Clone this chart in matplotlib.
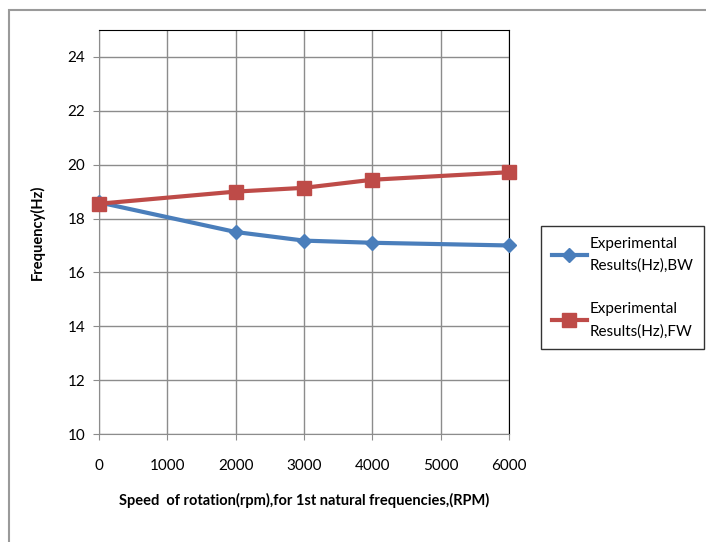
import matplotlib
matplotlib.use("Agg")
import matplotlib.pyplot as plt
from matplotlib.patches import Rectangle

plt.rcParams['font.family'] = ['Lato', 'DejaVu Sans']

speed = [0, 2000, 3000, 4000, 6000]
bw = [18.6, 17.5, 17.18, 17.1, 17.0]
fw = [18.55, 19.0, 19.14, 19.44, 19.72]

blue = '#4a7ebb'
red = '#be4b48'

fig = plt.figure(figsize=(7.06, 5.42), dpi=100)
# outer chart border: a frame whose right and bottom edges fall off the canvas
fig.add_artist(Rectangle((9 / 706, -0.05), 1.0, 1.05 - 10 / 542,
                         transform=fig.transFigure, fill=False,
                         edgecolor='#9a9a9a', linewidth=1.5, clip_on=False))

ax = fig.add_axes([99 / 706, 108 / 542, 410 / 706, 404 / 542])
ax.plot(speed, bw, color=blue, lw=3, marker='D', ms=7, clip_on=False, zorder=3,
        label='Experimental\nResults(Hz),BW')
ax.plot(speed, fw, color=red, lw=3, marker='s', ms=10, clip_on=False, zorder=4,
        label='Experimental\nResults(Hz),FW')

ax.set_xlim(0, 6000)
ax.set_ylim(10, 25)
ax.set_xticks(range(0, 6001, 1000))
ax.set_yticks(range(10, 25, 2))
ax.grid(True, color='#8c8c8c', lw=1)
ax.set_axisbelow(True)
for s in ['left', 'bottom']:
    ax.spines[s].set_color('#8c8c8c')
for s in ['top', 'right']:
    ax.spines[s].set_color('black')
ax.tick_params(direction='out', length=4, color='#8c8c8c', labelsize=11, pad=14)
ax.tick_params(axis='y', pad=6)

ax.set_xlabel('Speed  of rotation(rpm),for 1st natural frequencies,(RPM)',
              fontsize=10.5, fontweight='bold', labelpad=14)
ax.set_ylabel('Frequency(Hz)', fontsize=10.5, fontweight='bold', labelpad=16)

leg = fig.legend(loc='upper left', bbox_to_anchor=(541 / 706, 1 - 226 / 542),
                 bbox_transform=fig.transFigure, fontsize=11,
                 frameon=True, fancybox=False, edgecolor='black',
                 handlelength=2.3, handletextpad=0.2, labelspacing=1.9,
                 borderpad=0.7, borderaxespad=0)
leg.get_frame().set_linewidth(1)
for t in leg.get_texts():
    t.set_linespacing(1.7)

fig.savefig('out.png', dpi=100)
